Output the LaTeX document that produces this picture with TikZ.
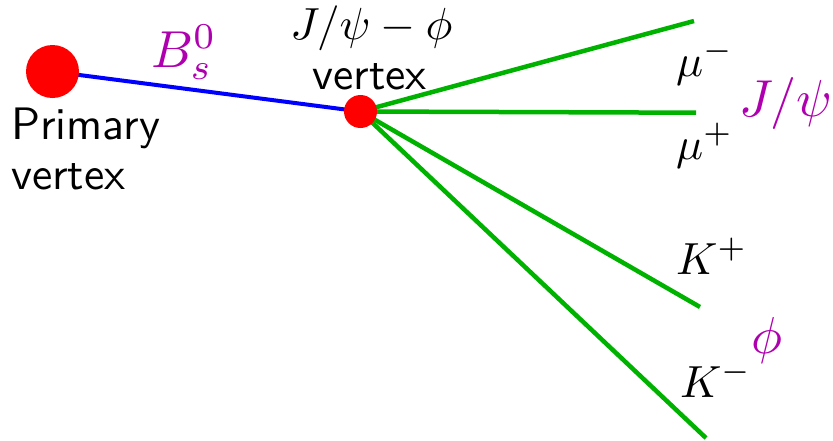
\documentclass[tikz,border=0pt]{standalone}
\usepackage{graphicx}
\usetikzlibrary{backgrounds}
\definecolor{trkgreen}{RGB}{0,178,0}
\definecolor{lblmag}{RGB}{175,0,175}
\definecolor{vtxred}{RGB}{255,0,0}
\definecolor{bsblue}{RGB}{0,0,255}
\newcommand{\sftxt}[1]{\scalebox{4.55}{\sffamily #1}}
\newcommand{\mtxt}[1]{\scalebox{4.5}{#1}}
\newcommand{\mgtxt}[1]{\scalebox{5.2}{#1}}
\begin{document}
\begin{tikzpicture}[x=1pt,y=-1pt,
  vtx/.style={circle,fill=vtxred,inner sep=0pt},
  trk/.style={line width=4.5pt,draw=trkgreen},
  bline/.style={line width=4pt,draw=bsblue},
  sflab/.style={inner sep=0pt,anchor=base west},
  mlab/.style={inner sep=0pt,anchor=base west},
  maglab/.style={inner sep=0pt,anchor=base west,text=lblmag}]
\useasboundingbox (0,0) rectangle (833,440);
\node[vtx,minimum size=53pt] (pv) at (52.5,71.5) {};
\node[vtx,minimum size=33pt] (sv) at (360.5,111.5) {};
\coordinate (e1) at (694,21);
\coordinate (e2) at (696,112.7);
\coordinate (e3) at (700,307);
\coordinate (e4) at (706,438);
\begin{scope}[on background layer]
\draw[bline] (pv.center) -- (sv.center);
\draw[trk] (sv.center) -- (e1);
\draw[trk] (sv.center) -- (e2);
\draw[trk] (sv.center) -- (e3);
\draw[trk] (sv.center) -- (e4);
\end{scope}
\node[sflab] (pvt1) at (11,139.3) {\sftxt{Primary}};
\node[sflab] (pvt2) at (11,189.3) {\sftxt{vertex}};
\node[sflab,anchor=base] (svt2) at (369.5,89.5) {\sftxt{vertex}};
\node[mlab,anchor=base] (svt1) at (371.5,39.5) {\mtxt{$J/\psi-\phi$}};
\node[maglab] (bs) at (151,67) {\mgtxt{$B_s^0$}};
\node[mlab] (mum) at (676,76) {\mtxt{$\mu^-$}};
\node[mlab] (mup) at (676,159) {\mtxt{$\mu^+$}};
\node[maglab] (jpsi) at (739,116) {\mgtxt{$J/\psi$}};
\node[mlab] (kp) at (676,274) {\mtxt{$K^+$}};
\node[maglab,anchor=base] (phi) at (767,353) {\mgtxt{$\phi$}};
\node[mlab] (km) at (680,397) {\mtxt{$K^-$}};
\end{tikzpicture}
\end{document}
